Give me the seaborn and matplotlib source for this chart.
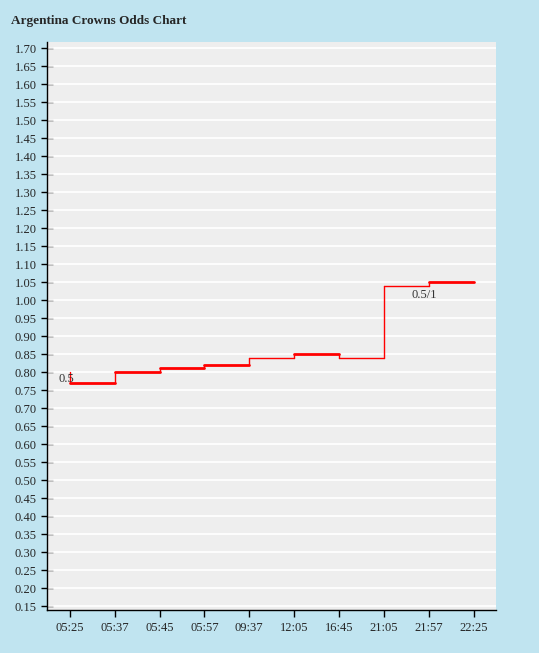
import numpy as np
import matplotlib
matplotlib.use("Agg")
import matplotlib.pyplot as plt
import seaborn as sns

times = ['05:25', '05:37', '05:45', '05:57', '09:37', '12:05', '16:45', '21:05', '21:57', '22:25']
odds = [0.77, 0.80, 0.81, 0.82, 0.84, 0.85, 0.84, 1.04, 1.05, 1.05]
thick = [True, True, True, True, False, True, False, False, True]
start_odds = 0.80
y_ticks = np.round(np.arange(0.15, 1.701, 0.05), 2)

sns.set_style("white")
plt.rcParams['font.family'] = ['Liberation Serif', 'DejaVu Serif']

fig = plt.figure(figsize=(5.39, 6.53), dpi=100, facecolor='#c0e4f0')
ax = fig.add_axes([47/539, 1 - 610/653, (496-47)/539, (610-42)/653])
ax.set_facecolor('#eeeeee')

x = np.arange(len(times))
ax.set_xlim(-0.51, 9.5)
ax.set_ylim(0.139, 1.717)
for yv in y_ticks:
    ax.axhline(yv, color='white', lw=1.2, zorder=1)

# step line
ax.plot([x[0], x[0]], [start_odds, odds[0]], color='red', lw=1, zorder=3)
for i in range(len(times) - 1):
    lw = 2 if thick[i] else 1
    sns.lineplot(x=[x[i], x[i+1]], y=[odds[i], odds[i]], color='red', lw=lw, ax=ax, zorder=3)
    if odds[i+1] != odds[i]:
        ax.plot([x[i+1], x[i+1]], [odds[i], odds[i+1]], color='red', lw=1, zorder=3)

ax.text(x[0] - 0.25, 0.78, '0.5', fontsize=9, va='center', color='#333333')
ax.text(x[8] - 0.39, 1.015, '0.5/1', fontsize=9, va='center', color='#333333')

ax.set_yticks(y_ticks)
ax.set_yticklabels([f'{v:.2f}' for v in y_ticks], fontsize=9)
ax.set_xticks(x)
ax.set_xticklabels(times, fontsize=9)
ax.tick_params(axis='y', direction='inout', length=8, width=1, color='black', left=True)
ax.tick_params(axis='x', direction='out', length=5, width=1, color='black', bottom=True)
for s in ['top', 'right']:
    ax.spines[s].set_visible(False)
for s in ['left', 'bottom']:
    ax.spines[s].set_color('black')
    ax.spines[s].set_linewidth(1)

fig.text(11/539, 1 - 21/653, 'Argentina Crowns Odds Chart', fontsize=9.5, fontweight='bold', va='center')

fig.savefig('out.png', dpi=100, facecolor=fig.get_facecolor())
